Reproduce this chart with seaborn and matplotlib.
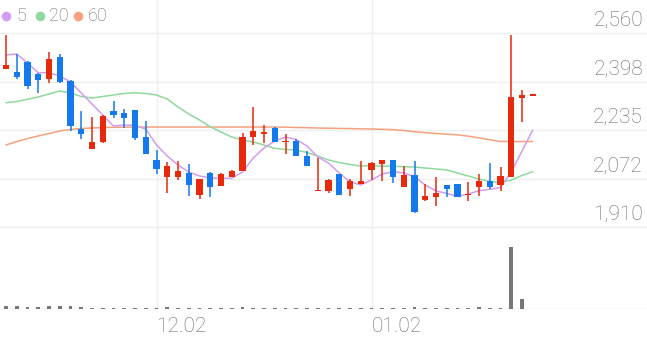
import matplotlib
matplotlib.use("Agg")
import matplotlib.pyplot as plt
import numpy as np
import pandas as pd
import seaborn as sns

# ---------------- data ----------------
opens = [2439, 2428, 2464, 2422, 2405, 2481, 2400, 2238, 2171, 2194,
         2299, 2291, 2301, 2213, 2135, 2079, 2079, 2092, 2017, 2092,
         2047, 2079, 2098, 2211, 2221, 2243, 2194, 2198, 2149, 2031,
         2032, 2087, 2036, 2054, 2101, 2120, 2135, 2043, 2084, 2001,
         2012, 2051, 2054, 2016, 2045, 2065, 2051, 2079, 2341, 2350]
highs = [2553, 2490, 2467, 2425, 2495, 2490, 2403, 2300, 2280, 2284,
         2332, 2305, 2303, 2266, 2168, 2127, 2132, 2121, 2071, 2095,
         2090, 2101, 2226, 2311, 2252, 2245, 2221, 2205, 2166, 2140,
         2071, 2088, 2071, 2131, 2127, 2136, 2136, 2114, 2131, 2054,
         2079, 2052, 2055, 2062, 2088, 2125, 2110, 2553, 2369, 2350]
lows = [2439, 2405, 2371, 2360, 2392, 2392, 2233, 2204, 2171, 2193,
        2274, 2243, 2202, 2154, 2088, 2023, 2068, 2015, 2003, 2012,
        2047, 2078, 2097, 2185, 2190, 2195, 2154, 2147, 2115, 2030,
        2023, 2016, 2015, 2054, 2068, 2064, 2058, 2043, 1956, 1998,
        1980, 2010, 2011, 1998, 2015, 2036, 2032, 2078, 2263, 2350]
closes = [2453, 2414, 2382, 2403, 2472, 2397, 2249, 2221, 2196, 2282,
          2285, 2274, 2207, 2155, 2104, 2115, 2099, 2051, 2070, 2043,
          2088, 2099, 2213, 2232, 2227, 2196, 2198, 2148, 2115, 2035,
          2068, 2016, 2064, 2064, 2123, 2135, 2079, 2084, 1961, 2015,
          2023, 2036, 2012, 2021, 2065, 2045, 2081, 2347, 2351, 2350]
volumes = [30, 30, 22, 22, 30, 30, 30, 18, 14, 14,
           14, 14, 14, 14, 14, 16, 14, 14, 14, 14,
           14, 14, 22, 14, 14, 14, 14, 14, 14, 14,
           14, 14, 14, 14, 14, 14, 14, 14, 22, 14,
           14, 14, 14, 14, 18, 14, 14, 620, 100, 0]
ma5 = [2486.3, 2489.6, 2459.5, 2427.0, 2427.0, 2415.9, 2395.8, 2359.0, 2322.1, 2285.3,
       2248.4, 2251.8, 2250.1, 2238.3, 2184.7, 2147.9, 2117.7, 2094.3, 2080.9, 2074.2,
       2073.2, 2073.2, 2094.3, 2141.2, 2174.7, 2198.1, 2211.5, 2203.2, 2181.4, 2144.5,
       2124.4, 2090.9, 2061.8, 2050.7, 2067.5, 2087.6, 2095.3, 2090.9, 2078.5, 2050.7,
       2030.6, 2022.9, 2012.2, 2020.6, 2031.6, 2036.3, 2042.3, 2094.3, 2164.6, 2235.0]
ma20 = [2326.5, 2330.5, 2337.9, 2345.6, 2355.6, 2365.7, 2359.0, 2347.2, 2342.2, 2347.2,
        2352.3, 2357.3, 2360.0, 2357.3, 2352.3, 2338.9, 2312.1, 2288.6, 2268.5, 2246.1,
        2228.3, 2211.5, 2201.5, 2194.8, 2184.7, 2173.7, 2169.7, 2168.0, 2159.6, 2147.9,
        2134.5, 2126.1, 2119.4, 2114.4, 2114.4, 2114.4, 2113.4, 2112.0, 2111.0, 2107.7,
        2104.3, 2101.0, 2090.9, 2080.9, 2070.8, 2062.5, 2059.1, 2067.5, 2082.6, 2095.3]
ma60 = [2184.7, 2196.5, 2206.5, 2214.9, 2223.3, 2231.7, 2236.7, 2240.0, 2241.7, 2243.4,
        2244.0, 2244.5, 2244.7, 2245.0, 2245.0, 2245.0, 2245.0, 2245.0, 2245.0, 2245.0,
        2245.0, 2245.0, 2245.0, 2245.0, 2245.0, 2245.0, 2244.5, 2243.4, 2242.7, 2241.7,
        2241.0, 2240.3, 2239.7, 2239.0, 2238.3, 2237.3, 2236.3, 2233.3, 2229.3, 2226.0,
        2223.3, 2221.0, 2218.6, 2214.3, 2208.5, 2202.2, 2196.5, 2196.5, 2196.5, 2196.5]
ytick_vals = [2560, 2397.5, 2235, 2072.5, 1910]
ytick_labels = ["2,560", "2,398", "2,235", "2,072", "1,910"]
xtick_pos = [14, 34]
xtick_labels = ["12.02", "01.02"]
legend_labels = ["5", "20", "60"]

# ---------------- styling ----------------
sns.set_theme(style="white")
plt.rcParams["font.family"] = ["Roboto", "DejaVu Sans"]

RED = "#e62a0b"
BLUE = "#1379ec"
C5, C20, C60 = "#d49cf0", "#8fd99c", "#f6a17d"
GRID = "#efefef"
TXT = "#6b6b6b"
FW = "light"

df = pd.DataFrame({"idx": np.arange(len(opens)), "open": opens, "high": highs,
                   "low": lows, "close": closes, "vol": volumes,
                   "ma5": ma5, "ma20": ma20, "ma60": ma60})

W, H = 647, 337
fig = plt.figure(figsize=(W / 100, H / 100), dpi=100)
ax = fig.add_axes([0, 107 / H, 1, 230 / H])
axv = fig.add_axes([0, 28 / H, 1, 79 / H], sharex=ax)

xlim = (-6 / 10.75, (W - 6) / 10.75)

# grid
ax.set_yticks(ytick_vals)
ax.set_xticks(xtick_pos)
ax.grid(True, color=GRID, lw=1)
axv.set_yticks([])
axv.grid(True, axis="x", color=GRID, lw=1)

# moving averages
sns.lineplot(data=df, x="idx", y="ma60", ax=ax, color=C60, lw=1.1, zorder=2)
sns.lineplot(data=df, x="idx", y="ma20", ax=ax, color=C20, lw=1.1, zorder=2)
sns.lineplot(data=df, x="idx", y="ma5", ax=ax, color=C5, lw=1.1, zorder=2)

# candles
colors = [RED if c >= o else BLUE for o, c in zip(df["open"], df["close"])]
ax.vlines(df["idx"], df["low"], df["high"], colors=colors, lw=1.1, zorder=3)
bottoms = np.minimum(df["open"], df["close"])
heights = np.maximum(np.abs(df["close"] - df["open"]), 4)
ax.bar(df["idx"], heights, bottom=bottoms, width=0.6, color=colors, zorder=4, linewidth=0)

ax.set_xlim(*xlim)
ax.set_ylim(1899.95, 2670.57)
ax.set_xlabel("")
ax.set_ylabel("")
ax.tick_params(length=0, labelleft=False, labelbottom=False)
for s in ax.spines.values():
    s.set_visible(False)

# y labels (right, above gridlines)
for v, lab in zip(ytick_vals, ytick_labels):
    ax.annotate(lab, xy=(643 / W, v), xycoords=("axes fraction", "data"),
                xytext=(0, 5), textcoords="offset points", ha="right",
                va="baseline", fontsize=15, color=TXT, fontweight=FW)

# legend
for xc, xt, col, lab in zip([6, 39.5, 77.5], [16.5, 48.5, 87.5], [C5, C20, C60], legend_labels):
    ax.scatter([xc / W], [1 - 16 / 230], s=48, color=col, transform=ax.transAxes,
               clip_on=False, zorder=5, linewidths=0)
    ax.text(xt / W, 1 - 16 / 230, lab, transform=ax.transAxes, ha="left",
            va="center", fontsize=13, color=TXT, fontweight=FW)

# volume
axv.bar(df["idx"], df["vol"], width=0.35, color="#777777", zorder=3, linewidth=0)
axv.axhline(0, color="#e4e4e4", lw=1, zorder=2)
axv.set_ylim(0, 790)
axv.set_xlim(*xlim)
axv.set_xticks(xtick_pos)
axv.set_xticklabels(xtick_labels, ha="left", fontsize=15, color=TXT, fontweight=FW)
axv.tick_params(length=0, pad=6)
axv.set_xlabel("")
axv.set_ylabel("")
for s in axv.spines.values():
    s.set_visible(False)

fig.savefig("out.png", dpi=100)
